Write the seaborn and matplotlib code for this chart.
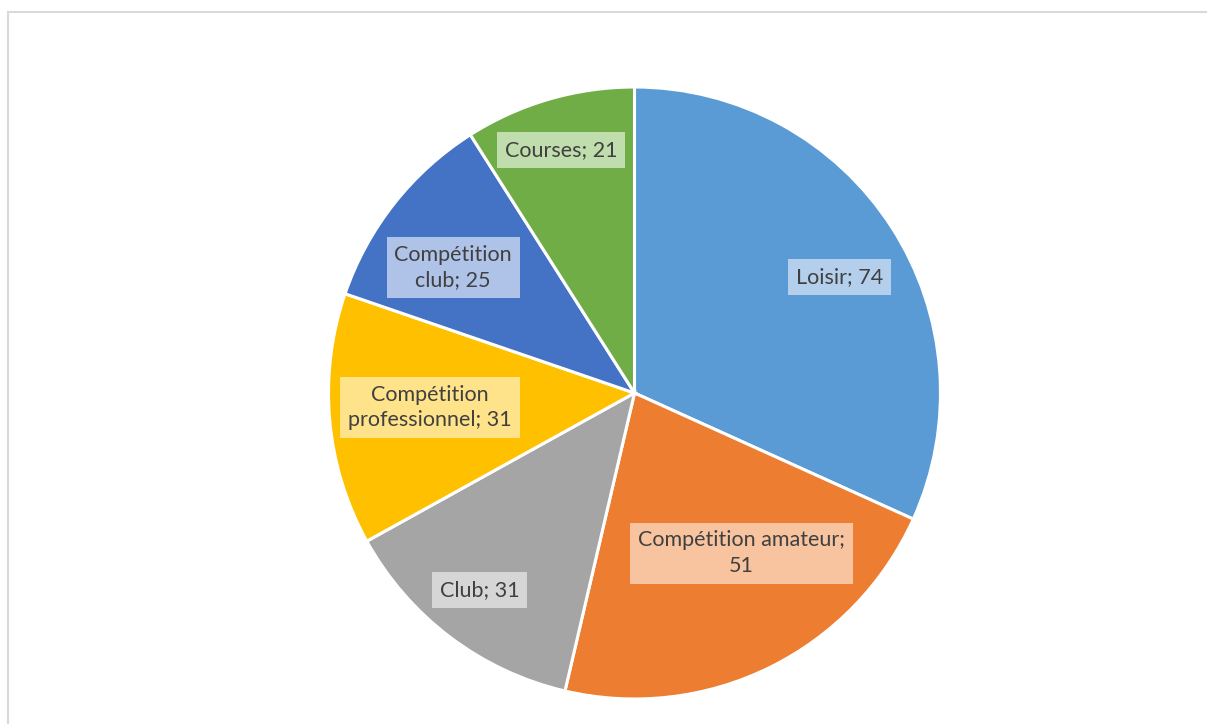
import numpy as np
import matplotlib
matplotlib.use("Agg")
import matplotlib.pyplot as plt
import seaborn as sns
from matplotlib.patches import Rectangle

sns.set_theme(style="white")
plt.rcParams['font.family'] = ['Lato', 'DejaVu Sans']

categories = ["Loisir", "Compétition amateur", "Club", "Compétition\nprofessionnel",
              "Compétition\nclub", "Courses"]
label_texts = ["Loisir; 74", "Compétition amateur;\n51", "Club; 31",
               "Compétition\nprofessionnel; 31", "Compétition\nclub; 25", "Courses; 21"]
values = [74, 51, 31, 31, 25, 21]
colors = ["#5B9BD5", "#ED7D31", "#A5A5A5", "#FFC000", "#4472C4", "#70AD47"]
box_colors = ["#B4CFEC", "#F8C4A0", "#D6D6D6", "#FFE38A", "#AFC2E8", "#BFDDAD"]
label_dist = [0.77, 0.63, 0.82, 0.67, 0.72, 0.83]
label_angle_offset = [-3.3, 7.5, -1.1, -1.0, 3.6, 0.6]

W, H = 1207, 724
fig = plt.figure(figsize=(W / 100, H / 100), dpi=100)
ax = fig.add_axes([0, 0, 1, 1])

cx, cy, r = 634.5, H - 393, 306
wedges, _ = ax.pie(values, colors=colors, startangle=90, counterclock=False,
                   center=(cx, cy), radius=r, frame=True,
                   wedgeprops=dict(edgecolor="white", linewidth=2.2))
ax.set_xlim(0, W)
ax.set_ylim(0, H)
ax.set_aspect("equal")
ax.axis("off")

for w, txt, bc, d, off in zip(wedges, label_texts, box_colors, label_dist, label_angle_offset):
    ang = np.deg2rad((w.theta1 + w.theta2) / 2 + off)
    x = cx + d * r * np.cos(ang)
    y = cy + d * r * np.sin(ang)
    ax.text(x, y, txt, ha="center", va="center", fontsize=15.5, color="#404040",
            linespacing=1.35,
            bbox=dict(boxstyle="square,pad=0.36", facecolor=bc, edgecolor="none"))

frame = Rectangle((7.5, -10), W + 10, H - 12 + 10, fill=False,
                  edgecolor="#D9D9D9", linewidth=1.5, transform=ax.transData, clip_on=False)
ax.add_patch(frame)

fig.savefig("out.png", dpi=100, facecolor="white")
